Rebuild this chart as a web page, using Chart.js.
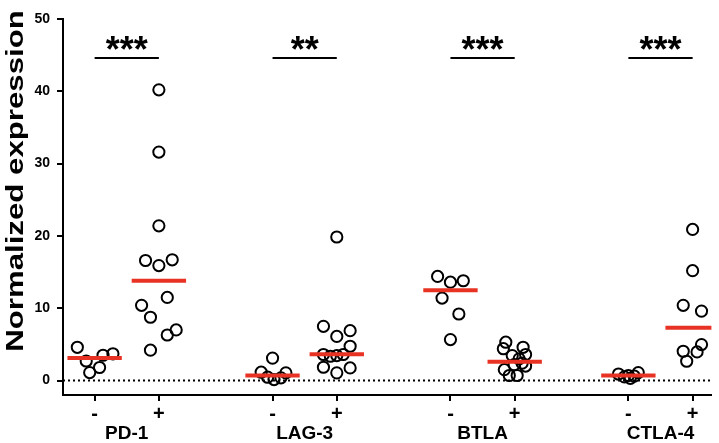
<!DOCTYPE html>
<html>
<head>
<meta charset="utf-8">
<script src="https://cdn.jsdelivr.net/npm/chart.js@4"></script>
<style>
  html, body { margin: 0; padding: 0; background: #ffffff; }
  #wrap { width: 719px; height: 443px; }
</style>
</head>
<body>
<div id="wrap"><canvas id="c" width="719" height="443"></canvas></div>
<script>
// ---------- DATA ----------
const categories = ['PD-1', 'LAG-3', 'BTLA', 'CTLA-4'];
const conditions = ['-', '+'];
const significance = ['***', '**', '***', '***'];
const yTicks = [0, 10, 20, 30, 40, 50];

// values per group
const pd1Neg  = [4.6, 2.7, 1.1, 1.8, 3.5, 3.7];
const pd1Pos  = [40.2, 31.6, 21.4, 16.6, 15.9, 16.7, 11.5, 10.4, 8.75, 6.3, 7.0, 4.2];
const lag3Neg = [3.1, 1.15, 0.46, 0.14, 0.37, 1.06];
const lag3Pos = [19.85, 7.5, 6.1, 6.9, 4.74, 3.6, 3.36, 3.45, 3.6, 1.84, 1.06, 1.75];
const btlaNeg = [14.4, 13.6, 13.8, 11.4, 9.2, 5.66];
const btlaPos = [5.3, 4.4, 4.6, 3.45, 3.6, 3.0, 2.0, 1.5, 0.7, 0.7, 2.2, 2.4];
const ctla4Neg = [0.9, 0.5, 0.3, 0.6, 1.1, 0.7];
const ctla4Pos = [20.9, 15.2, 10.4, 9.6, 4.97, 3.96, 4.05, 2.67];

// horizontal scatter (jitter) of each point, in x-axis units
const pd1NegJit  = [-3.5, -1.7, -1.0, 1.0, 1.7, 3.7];
const pd1PosJit  = [0, 0, 0, -2.7, 0, 2.7, 1.7, -3.5, -1.7, 1.7, 3.5, -1.7];
const lag3NegJit = [0, -2.3, -1.0, 0.3, 1.7, 2.7];
const lag3PosJit = [0, -2.7, 0, 2.7, 2.7, -2.7, -1.3, 0, 1.3, -2.7, 0, 2.7];
const btlaNegJit = [-2.6, 0, 2.6, -1.7, 1.7, 0];
const btlaPosJit = [-1.8, -2.3, 1.7, -0.5, 2.2, 0.9, 2.2, -2.1, -1.1, 0.5, -0.1, 1.5];
const ctla4NegJit = [-2.0, -0.8, 0.4, 1.2, 2.0, 0];
const ctla4PosJit = [0, 0, -1.9, 1.8, 1.8, 0.9, -1.9, -1.2];

// median lines (red) per group
const mediansNeg = [3.1, 0.7, 12.5, 0.7];
const mediansPos = [13.8, 3.65, 2.6, 7.3];

// ---------- LAYOUT ----------
const GROUP_STEP = 36;   // x units between groups
const PAIR_STEP = 13;    // x units between - and +
const X_MIN = -6.4, X_MAX = 124.8;
const Y_MIN = -2, Y_MAX = 50;
const MEDIAN_HALF = 5.5;
const SIG_Y = 44.6;
const RED = 'rgb(232,50,35)';
const FONT = "'Liberation Sans', Arial, sans-serif";

const groups = [
  [pd1Neg, pd1NegJit], [pd1Pos, pd1PosJit],
  [lag3Neg, lag3NegJit], [lag3Pos, lag3PosJit],
  [btlaNeg, btlaNegJit], [btlaPos, btlaPosJit],
  [ctla4Neg, ctla4NegJit], [ctla4Pos, ctla4PosJit]
];
const tickPos = [];
categories.forEach((c, g) => conditions.forEach((s, k) => tickPos.push(g * GROUP_STEP + k * PAIR_STEP)));
const groupCenters = categories.map((c, g) => g * GROUP_STEP + PAIR_STEP / 2);

const datasets = [];
datasets.push({
  data: [{x: X_MIN, y: 0}, {x: X_MAX, y: 0}],
  showLine: true, borderColor: '#000', borderWidth: 2, borderDash: [2, 3],
  pointRadius: 0, order: 5
});
groups.forEach(([vals, jit], i) => {
  datasets.push({
    data: vals.map((v, j) => ({x: tickPos[i] + jit[j], y: v})),
    pointRadius: 5.6, pointBorderWidth: 2, pointBorderColor: '#000',
    pointBackgroundColor: 'rgba(0,0,0,0)', showLine: false, order: 3
  });
});
categories.forEach((c, g) => {
  [mediansNeg[g], mediansPos[g]].forEach((m, k) => {
    const cx = tickPos[g * 2 + k];
    datasets.push({
      data: [{x: cx - MEDIAN_HALF, y: m}, {x: cx + MEDIAN_HALF, y: m}],
      showLine: true, borderColor: RED, borderWidth: 4, pointRadius: 0,
      borderCapStyle: 'butt', order: 1
    });
  });
});

const sigPlugin = {
  id: 'sig',
  afterDatasetsDraw(chart) {
    const ctx = chart.ctx, xs = chart.scales.x, ys = chart.scales.y;
    ctx.save();
    ctx.strokeStyle = '#000'; ctx.lineWidth = 2; ctx.fillStyle = '#000';
    categories.forEach((c, g) => {
      const x0 = xs.getPixelForValue(tickPos[g * 2]);
      const x1 = xs.getPixelForValue(tickPos[g * 2 + 1]);
      const y = ys.getPixelForValue(SIG_Y);
      ctx.beginPath(); ctx.moveTo(x0, y); ctx.lineTo(x1, y); ctx.stroke();
      ctx.font = 'bold 36px ' + FONT;
      ctx.textAlign = 'center'; ctx.textBaseline = 'alphabetic';
      ctx.fillText(significance[g], (x0 + x1) / 2, y + 4);
    });
    // y-axis title
    ctx.translate(16, 181);
    ctx.rotate(-Math.PI / 2);
    ctx.scale(1.3, 1);
    ctx.font = 'bold 24px ' + FONT;
    ctx.textAlign = 'center'; ctx.textBaseline = 'middle';
    ctx.fillText('Normalized expression', 0, 0);
    ctx.restore();
  }
};

new Chart(document.getElementById('c'), {
  type: 'scatter',
  data: { datasets },
  options: {
    responsive: false, animation: false, devicePixelRatio: 1,
    layout: { padding: { top: 19, left: 0, right: 0, bottom: 0 } },
    plugins: { legend: { display: false }, tooltip: { enabled: false } },
    scales: {
      x: {
        type: 'linear', min: X_MIN, max: X_MAX, weight: 0,
        afterBuildTicks: s => { s.ticks = tickPos.map(v => ({value: v})); },
        afterFit: s => { s.height = 26; },
        ticks: { callback: (v, i) => conditions[i % 2], color: '#000', padding: 1,
                 font: { family: FONT, size: 20, weight: 'bold' }, autoSkip: false, maxRotation: 0 },
        grid: { display: true, drawOnChartArea: false, drawTicks: true, tickLength: 6, color: '#000', lineWidth: 2 },
        border: { display: true, color: '#000', width: 2 }
      },
      x2: {
        type: 'linear', position: 'bottom', min: X_MIN, max: X_MAX, weight: 1,
        afterBuildTicks: s => { s.ticks = groupCenters.map(v => ({value: v})); },
        afterFit: s => { s.height = 22; },
        ticks: { callback: (v, i) => categories[i], color: '#000', padding: 1,
                 font: { family: FONT, size: 19, weight: 'bold' }, autoSkip: false, maxRotation: 0 },
        grid: { display: false, drawTicks: false },
        border: { display: false }
      },
      y: {
        type: 'linear', min: Y_MIN, max: Y_MAX,
        afterBuildTicks: s => { s.ticks = yTicks.map(v => ({value: v})); },
        afterFit: s => { s.width = 63; },
        ticks: { color: '#000', padding: 7, font: { family: FONT, size: 14, weight: 'bold' } },
        grid: { display: true, drawOnChartArea: false, drawTicks: true, tickLength: 6, color: '#000', lineWidth: 2 },
        border: { display: true, color: '#000', width: 2 }
      }
    }
  },
  plugins: [sigPlugin]
});
</script>
</body>
</html>
